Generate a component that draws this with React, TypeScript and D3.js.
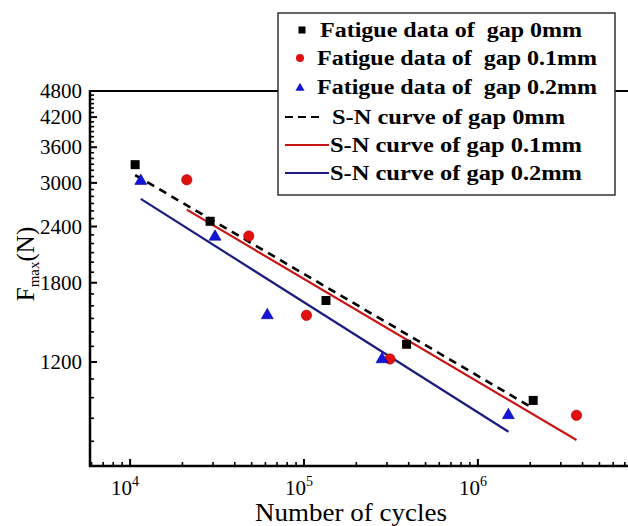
import React from 'react';
import * as d3 from 'd3';

// ---- data ----
const gap0N = [10690, 28840, 133800, 389000, 2080000];
const gap0F = [3293, 2465, 1644, 1314, 986];
const gap01N = [21180, 48130, 103300, 312000, 3690000];
const gap01F = [3049, 2286, 1524, 1219, 914];
const gap02N = [11520, 30800, 61500, 281000, 1497000];
const gap02F = [3045, 2289, 1532, 1223, 919];

const curve0N = [10690, 2080000];
const curve0F = [3123, 947];
const curve01N = [21180, 3690000];
const curve01F = [2616, 805];
const curve02N = [11520, 1500000];
const curve02F = [2764, 840];

const yTicks = [1200, 1800, 2400, 3000, 3600, 4200, 4800];
const xTicks = [1e4, 1e5, 1e6];
const xTickExp = ['4', '5', '6'];

const legendLabels = [
  'Fatigue data of  gap 0mm',
  'Fatigue data of  gap 0.1mm',
  'Fatigue data of  gap 0.2mm',
  'S-N curve of gap 0mm',
  'S-N curve of gap 0.1mm',
  'S-N curve of gap 0.2mm',
];

const W = 628;
const H = 526;
const RED = '#e01010';
const BLUE = '#1515d8';
const RED_LINE = '#c81414';
const BLUE_LINE = '#1c1c80';
const FONT = "'Liberation Serif', 'Times New Roman', serif";

export default function App() {
  const x = d3.scaleLog().domain([5880, 7.3e6]).range([90, 628]);
  const y = d3.scaleLog().domain([705, 4800]).range([466, 91]);

  const yMinor: number[] = [];
  for (let v = 800; v < 4800; v += 100) if (!yTicks.includes(v)) yMinor.push(v);
  const xMinor: number[] = [];
  for (const dec of [1e3, 1e4, 1e5, 1e6]) {
    for (let k = 2; k <= 9; k++) {
      const v = k * dec;
      if (v > x.domain()[0] && v < x.domain()[1]) xMinor.push(v);
    }
  }

  const line = d3
    .line<[number, number]>()
    .x((d) => x(d[0]))
    .y((d) => y(d[1]));
  const pts = (ns: number[], fs: number[]) => ns.map((n, i) => [n, fs[i]] as [number, number]);

  const tri = d3.symbol(d3.symbolTriangle, 62)();

  const lx = 278;
  const ly = 13;
  const rowY = [30, 58, 87, 117, 145, 173];
  const rowX = [320, 317, 317, 332, 330, 330];
  const rowLen = [262, 280, 280, 233, 252, 252];

  return (
    <svg
      width={W}
      height={H}
      style={{ position: 'absolute', left: 0, top: 0, background: '#fff', fontFamily: FONT }}
    >
      <rect x={0} y={0} width={W} height={H} fill="#fff" />

      {/* frame top line */}
      <line x1={89} x2={W} y1={91} y2={91} stroke="#000" strokeWidth={2.2} />

      {/* y axis */}
      <line x1={90} x2={90} y1={90} y2={467} stroke="#000" strokeWidth={2.5} />
      {yMinor.map((v) => (
        <line key={'ym' + v} x1={90} x2={94} y1={y(v)} y2={y(v)} stroke="#000" strokeWidth={1.6} />
      ))}
      {yTicks.map((v) => (
        <g key={'yt' + v}>
          <line x1={90} x2={97} y1={y(v)} y2={y(v)} stroke="#000" strokeWidth={2} />
          <text
            x={82}
            y={y(v)}
            dy="0.35em"
            textAnchor="end"
            fontSize={20.5}
            fontFamily={FONT}
            textLength={42}
            lengthAdjust="spacingAndGlyphs"
          >
            {v}
          </text>
        </g>
      ))}

      {/* x axis */}
      <line x1={89} x2={W} y1={466} y2={466} stroke="#000" strokeWidth={2.5} />
      {xMinor.map((v) => (
        <line key={'xm' + v} x1={x(v)} x2={x(v)} y1={466} y2={462} stroke="#000" strokeWidth={1.6} />
      ))}
      {xTicks.map((v, i) => (
        <g key={'xt' + v}>
          <line x1={x(v)} x2={x(v)} y1={466} y2={459} stroke="#000" strokeWidth={2} />
          <text x={x(v) - 5} y={495} textAnchor="middle" fontSize={21} fontFamily={FONT}>
            10
            <tspan dy={-9} fontSize={14}>
              {xTickExp[i]}
            </tspan>
          </text>
        </g>
      ))}

      {/* axis titles */}
      <text
        x={351}
        y={521}
        textAnchor="middle"
        fontSize={25}
        fontFamily={FONT}
        textLength={192}
        lengthAdjust="spacingAndGlyphs"
      >
        Number of cycles
      </text>
      <text transform="translate(34,264) rotate(-90)" textAnchor="middle" fontSize={25} fontFamily={FONT}>
        F
        <tspan fontSize={15} dy={5}>
          max
        </tspan>
        <tspan dy={-5}>(N)</tspan>
      </text>

      {/* S-N curves */}
      <path d={line(pts(curve01N, curve01F)) || ''} fill="none" stroke={RED_LINE} strokeWidth={2.2} />
      <path d={line(pts(curve02N, curve02F)) || ''} fill="none" stroke={BLUE_LINE} strokeWidth={2.2} />
      <path
        d={line(pts(curve0N, curve0F)) || ''}
        fill="none"
        stroke="#000"
        strokeWidth={2.6}
        strokeDasharray="8 6"
      />

      {/* data points */}
      {pts(gap0N, gap0F).map((d, i) => (
        <rect key={'s' + i} x={x(d[0]) - 4.5} y={y(d[1]) - 4.5} width={9} height={9} fill="#000" />
      ))}
      {pts(gap01N, gap01F).map((d, i) => (
        <circle key={'c' + i} cx={x(d[0])} cy={y(d[1])} r={5.2} fill={RED} stroke="#b00000" strokeWidth={0.6} />
      ))}
      {pts(gap02N, gap02F).map((d, i) => (
        <path
          key={'t' + i}
          d={tri || ''}
          transform={`translate(${x(d[0])},${y(d[1]) + 1})`}
          fill={BLUE}
          stroke="#0000a0"
          strokeWidth={0.6}
        />
      ))}

      {/* legend */}
      <rect x={lx} y={ly} width={337} height={182} fill="#fff" stroke="#333" strokeWidth={1.5} />
      <rect x={298.5} y={rowY[0] - 3.5} width={7} height={7} fill="#000" />
      <circle cx={300} cy={rowY[1]} r={4} fill={RED} />
      <path
        d={d3.symbol(d3.symbolTriangle, 36)() || ''}
        transform={`translate(300,${rowY[2] + 1})`}
        fill={BLUE}
      />
      <line x1={285} x2={321} y1={rowY[3]} y2={rowY[3]} stroke="#000" strokeWidth={2.2} strokeDasharray="8 5" />
      <line x1={285} x2={329} y1={rowY[4]} y2={rowY[4]} stroke={RED_LINE} strokeWidth={2} />
      <line x1={285} x2={329} y1={rowY[5]} y2={rowY[5]} stroke={BLUE_LINE} strokeWidth={2} />
      {legendLabels.map((t, i) => (
        <text
          key={'l' + i}
          x={rowX[i]}
          y={rowY[i]}
          dy="0.35em"
          fontSize={20}
          fontWeight="bold"
          fontFamily={FONT}
          textLength={rowLen[i]}
          lengthAdjust="spacingAndGlyphs"
          style={{ whiteSpace: 'pre' }}
        >
          {t}
        </text>
      ))}
    </svg>
  );
}
